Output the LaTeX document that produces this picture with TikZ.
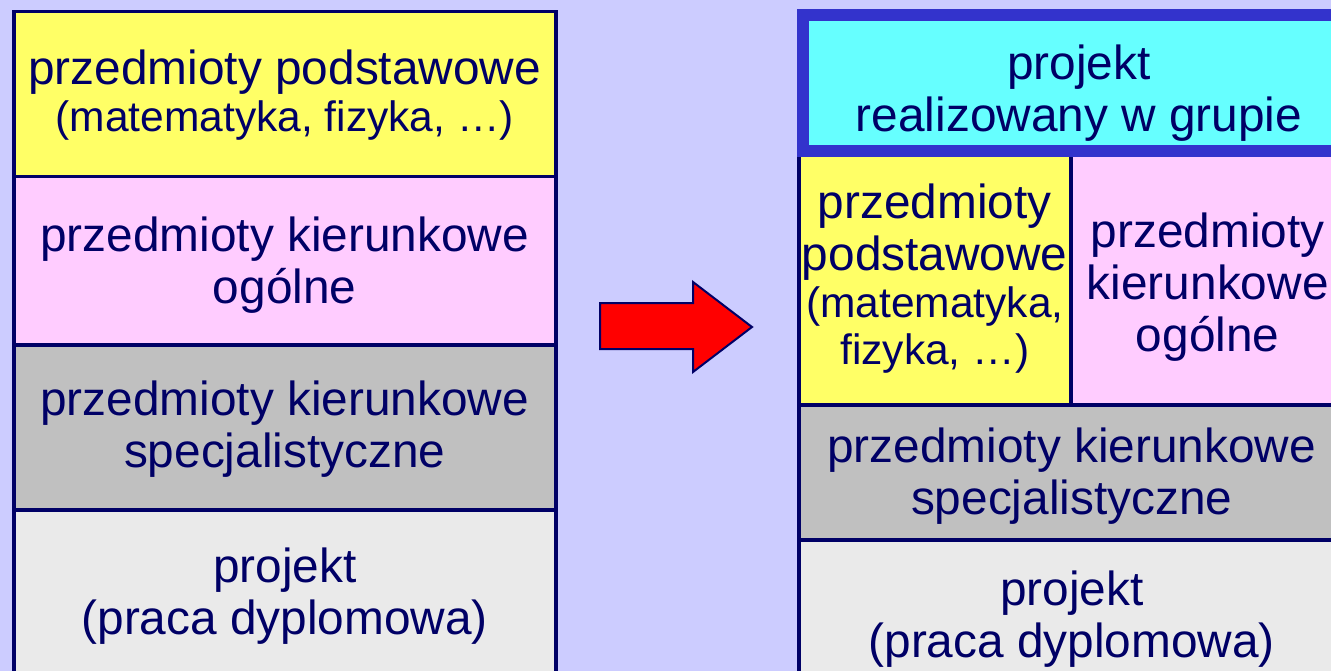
\documentclass[tikz,border=0pt]{standalone}
\usepackage{fontspec}
\setmainfont{Liberation Sans}
\definecolor{bg}{HTML}{CCCCFF}
\definecolor{ink}{HTML}{000066}
\definecolor{basic}{HTML}{FFFF66}
\definecolor{general}{HTML}{FFCCFF}
\definecolor{special}{HTML}{C0C0C0}
\definecolor{thesis}{HTML}{EAEAEA}
\definecolor{team}{HTML}{66FFFF}
\definecolor{teamframe}{HTML}{3333CC}
\newcommand{\mainsize}{\fontsize{47.8}{52}\selectfont}
\newcommand{\notesize}{\fontsize{42.5}{47}\selectfont}
% a smaller line: 5pt less leading before it
\newcommand{\noteline}[1]{\\[-5pt]{\notesize #1}}
\tikzset{
  block/.style={draw=ink, line width=3.5pt, anchor=north west, inner sep=0pt},
  teamblock/.style={block, draw=teamframe, line width=12pt, fill=team},
  caption/.style={text=ink, align=center, inner sep=0pt, font=\mainsize},
}
\begin{document}
\begin{tikzpicture}[x=1pt,y=-1pt]
\fill[bg] (0,0) rectangle (1331,671);
\useasboundingbox (0,0) rectangle (1331,671);

% current curriculum
\node[block, fill=basic,   minimum width=542pt, minimum height=165pt] (l1) at (12,10) {};
\node[block, fill=general, minimum width=542pt, minimum height=168pt] (l2) at (12,175) {};
\node[block, fill=special, minimum width=542pt, minimum height=165pt] (l3) at (12,343) {};
\node[block, fill=thesis,  minimum width=542pt, minimum height=172pt] (l4) at (12,508) {};
\node[caption] (l1t) at ([yshift=-1pt]l1.center)
  {przedmioty podstawowe\noteline{(matematyka, fizyka, …)}};
\node[caption] (l2t) at ([yshift=-4pt]l2.center) {przedmioty kierunkowe\\ogólne};
\node[caption] (l3t) at ([yshift=-2pt]l3.center) {przedmioty kierunkowe\\specjalistyczne};
\node[caption] (l4t) at (l4.center) {projekt\\(praca dyplomowa)};

% transition arrow
\filldraw[fill=red, draw=ink, line width=2pt]
  (600,303) -- (693,303) -- (693,282) -- (752,327) -- (693,372) -- (693,349) -- (600,349) -- cycle;

% proposed curriculum
\node[block, fill=basic,   minimum width=272pt, minimum height=252pt] (r1) at (797,151) {};
\node[block, fill=general, minimum width=274pt, minimum height=252pt] (r2) at (1069,151) {};
\node[block, fill=special, minimum width=546pt, minimum height=135pt] (r3) at (797,403) {};
\node[block, fill=thesis,  minimum width=546pt, minimum height=158pt] (r4) at (797,538) {};
\node[teamblock, minimum width=552pt, minimum height=136pt] (r0) at (797,9) {};
\node[caption] (r0t) at ([yshift=-10pt]r0.center) {projekt\\realizowany w grupie};
\node[caption] (r1t) at (r1.center)
  {przedmioty\\podstawowe\noteline{(matematyka,}\noteline{fizyka, …)}};
\node[caption] (r2t) at ([yshift=-8pt]r2.center) {przedmioty\\kierunkowe\\ogólne};
\node[caption] (r3t) at ([yshift=-3.5pt]r3.center) {przedmioty kierunkowe\\specjalistyczne};
\node[caption] (r4t) at (r4.center) {projekt\\(praca dyplomowa)};
\end{tikzpicture}
\end{document}
